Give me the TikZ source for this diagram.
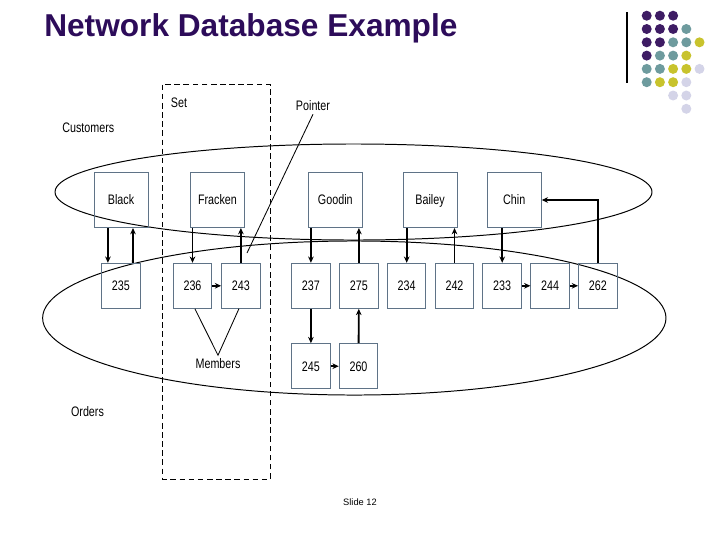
\documentclass[tikz,border=0pt]{standalone}
\usepackage{fontspec}
\setmainfont{Liberation Sans}
\newfontfamily\narrowfont[FakeStretch=0.78]{Liberation Sans}
\usetikzlibrary{arrows.meta}

\definecolor{titleblue}{RGB}{45,12,90}
\definecolor{boxline}{RGB}{95,115,135}
\definecolor{dotP}{RGB}{62,28,100}
\definecolor{dotT}{RGB}{110,155,158}
\definecolor{dotY}{RGB}{200,195,45}
\definecolor{dotL}{RGB}{212,212,232}

\begin{document}
\begin{tikzpicture}[x=0.025cm,y=-0.025cm,
    arr/.style={-{Stealth[length=4.5pt,width=4pt]},line width=1.3pt},
    lbl/.style={font=\narrowfont\fontsize{9.8}{11}\selectfont,inner sep=1pt,
      text height=1.6ex,text depth=0.3ex}]

  \useasboundingbox (0,0) rectangle (720,540);

  % title and logo
  \node[anchor=base west,inner sep=0,text=titleblue,
    font=\bfseries\fontsize{22.5}{26}\selectfont] (title) at (44,36) {Network Database Example};
  \draw[line width=0.8pt] (627,12) -- (627,83);
  \foreach \c/\r/\dotcol in {0/0/dotP,1/0/dotP,2/0/dotP,
      0/1/dotP,1/1/dotP,2/1/dotP,3/1/dotT,
      0/2/dotP,1/2/dotP,2/2/dotT,3/2/dotT,4/2/dotY,
      0/3/dotP,1/3/dotT,2/3/dotT,3/3/dotY,
      0/4/dotT,1/4/dotT,2/4/dotY,3/4/dotY,4/4/dotL,
      0/5/dotT,1/5/dotY,2/5/dotY,3/5/dotL,
      2/6/dotL,3/6/dotL,3/7/dotL}
    \fill[\dotcol] (646.7+13.2*\c,15.7+13.3*\r) circle[radius=0.125cm];

  % the set, and the two record types
  \draw[dash pattern=on 4pt off 2.5pt,line width=0.7pt] (162.5,84.7) rectangle (270.5,479);
  \draw[line width=0.7pt] (353.5,192) ellipse[x radius=7.46cm,y radius=1.2cm];
  \draw[line width=0.7pt] (354.3,318) ellipse[x radius=7.79cm,y radius=1.925cm];

  \node[lbl] (customers) at (88.3,128) {Customers};
  \node[lbl] (orders) at (87.5,412) {Orders};
  \node[lbl] (set) at (179,103) {Set};
  \node[lbl] (pointer) at (313,105.5) {Pointer};
  \node[lbl] (members) at (218,364) {Members};
  \node[font=\fontsize{6.6}{8}\selectfont,inner sep=1pt] (slide) at (360,501.7) {Slide 12};

  \begin{scope}[every node/.style={lbl,draw=boxline,line width=0.7pt,
      minimum width=1.35cm,minimum height=1.375cm}]
    \node (black)   at (121,200)   {Black};
    \node (fracken) at (217.5,200) {Fracken};
    \node (goodin)  at (335.3,200) {Goodin};
    \node (bailey)  at (430,200)   {Bailey};
    \node (chin)    at (514.2,200) {Chin};
  \end{scope}

  \begin{scope}[every node/.style={lbl,draw=boxline,line width=0.7pt,
      minimum width=0.9625cm,minimum height=1.125cm}]
    \node (235) at (120.9,285.8) {235};
    \node (236) at (192.5,285.8) {236};
    \node (243) at (240.9,285.8) {243};
    \node (237) at (310.9,285.8) {237};
    \node (275) at (358.9,285.8) {275};
    \node (234) at (406.7,285.8) {234};
    \node (242) at (454.5,285.8) {242};
    \node (233) at (502.2,285.8) {233};
    \node (244) at (550.2,285.8) {244};
    \node (262) at (597.8,285.8) {262};
    \node (245) at (310.9,366.2) {245};
    \node (260) at (358.5,366.2) {260};
  \end{scope}

  % owner to member pointers
  \draw[arr] ([xshift=-0.325cm]black.south) -- ([xshift=-0.325cm]235.north);
  \draw[arr] ([xshift=0.3cm]235.north) -- ([xshift=0.3cm]black.south);
  \draw[arr] (236.north |- fracken.south) -- (236.north);
  \draw[arr] (243.north) -- (243.north |- fracken.south);
  \draw[arr] (236) -- (243);
  \draw[arr] (237.north |- goodin.south) -- (237.north);
  \draw[arr] (237) -- (245);
  \draw[arr] (245) -- (260);
  \draw[arr] (260) -- (275);
  \draw[arr] (275.north) -- (275.north |- goodin.south);
  \draw[arr] (234.north |- bailey.south) -- (234.north);
  \draw[arr] (242.north) -- (242.north |- bailey.south);
  \draw[arr] (233.north |- chin.south) -- (233.north);
  \draw[arr] (233) -- (244);
  \draw[arr] (244) -- (262);
  \draw[arr] (262.north) |- (chin.east);

  % callouts
  \coordinate (ptr) at (247,253);
  \draw[line width=0.6pt] (pointer.south) -- (ptr);
  \draw[line width=0.6pt] ([xshift=0.06cm]236.south) -- (members.north) -- ([xshift=-0.05cm]243.south);

\end{tikzpicture}
\end{document}
